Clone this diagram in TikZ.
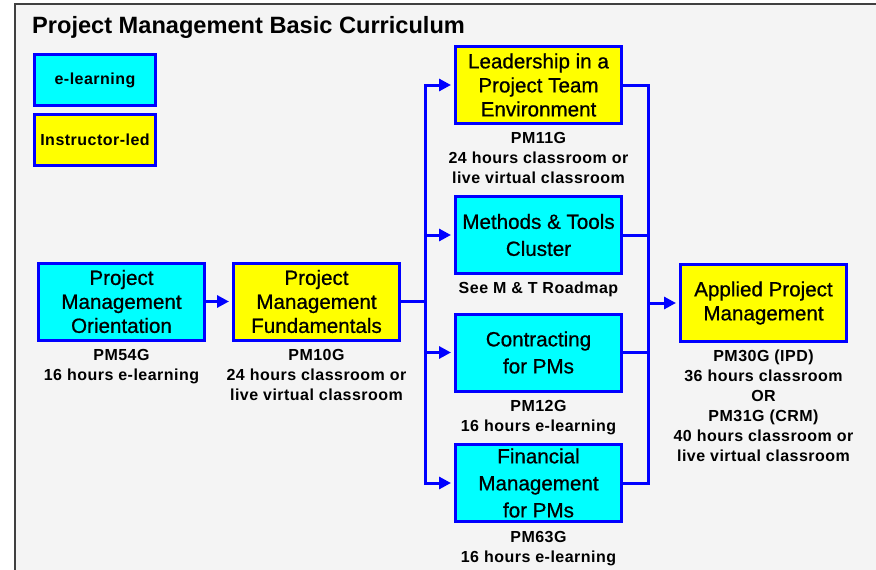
\documentclass[tikz,border=0pt]{standalone}
\usepackage{fontspec}
\setmainfont{Liberation Sans}
\newfontfamily\notefont[LetterSpace=3]{Liberation Sans}
\newfontfamily\boxfont[FakeBold=0.7]{Liberation Sans}
\usetikzlibrary{positioning,arrows.meta}
\definecolor{elearn}{RGB}{0,255,255}
\definecolor{classrm}{RGB}{255,255,0}
\definecolor{linkblue}{RGB}{0,0,255}
\definecolor{paper}{RGB}{244,244,244}

\begin{document}
\begin{tikzpicture}[x=1pt, y=-1pt,
    course/.style={draw=linkblue, line width=3pt, minimum width=166pt, minimum height=77pt, inner sep=0pt, align=center, font=\boxfont\fontsize{20.6}{24}\selectfont},
    ecourse/.style={course, fill=elearn},
    icourse/.style={course, fill=classrm},
    key/.style={draw=linkblue, line width=3pt, minimum width=121pt, minimum height=51pt, inner sep=0pt, font=\notefont\bfseries\fontsize{16}{20}\selectfont},
    note/.style={inner sep=0pt, align=center, font=\notefont\bfseries\fontsize{16}{20}\selectfont},
    link/.style={draw=linkblue, line width=3pt, -{Triangle[length=12pt,width=12pt]}, shorten >=3pt},
    wire/.style={draw=linkblue, line width=3pt}]
                \useasboundingbox (0,0) rectangle (876,570);
                \fill[paper] (15,4) rectangle (876,570);
                \draw[line width=1.5pt, black!75] (15,570) -- (15,4) -- (876,4);

                \node[anchor=base west, inner sep=0pt, font=\bfseries\fontsize{23.6}{28}\selectfont] (title) at (32,33) {Project Management Basic Curriculum};

                \node[key, fill=elearn] (keye) at (95,80) {e-learning};
                \node[key, fill=classrm] (keyi) at (95,140) {Instructor-led};

                \node[ecourse] (orient) at (121.5,301.5) {Project\\Management\\Orientation};
                \node[icourse] (fund) at (316.5,301.5) {Project\\Management\\Fundamentals};
                \node[icourse] (lead) at (538.5,85) {Leadership in a\\Project Team\\Environment};
                \node[ecourse] (meth) at (538.5,235) {Methods \& Tools\\[3pt]Cluster};
                \node[ecourse] (contr) at (538.5,352.5) {Contracting\\[3pt]for PMs};
                \node[ecourse] (fin) at (538.5,483) {Financial\\[3pt]Management\\[3pt]for PMs};
                \node[icourse] (appl) at (763.5,303) {Applied Project\\Management};

                \node[note, below=8pt of orient] (orientnote) {PM54G\\16 hours e-learning};
                \node[note, below=8pt of fund] (fundnote) {PM10G\\24 hours classroom or\\live virtual classroom};
                \node[note, below=7pt of lead] (leadnote) {PM11G\\24 hours classroom or\\live virtual classroom};
                \node[note, below=7pt of meth] (methnote) {See M \& T Roadmap};
                \node[note, below=8pt of contr] (contrnote) {PM12G\\16 hours e-learning};
                \node[note, below=8pt of fin] (finnote) {PM63G\\16 hours e-learning};
                \node[note, below=7pt of appl] (applnote) {PM30G (IPD)\\36 hours classroom\\OR\\PM31G (CRM)\\40 hours classroom or\\live virtual classroom};

                \coordinate (split) at (425,301.5);
                \coordinate (join) at (648,303);

                \draw[link] (orient) -- (fund);
                \draw[wire] (fund.east) -- (split);
                \draw[link] (split) |- (lead.west);
                \draw[link] (split) |- (meth.west);
                \draw[link] (split) |- (contr.west);
                \draw[link] (split) |- (fin.west);
                \draw[wire] (lead.east) -| (join);
                \draw[wire] (meth.east) -| (join);
                \draw[wire] (contr.east) -| (join);
                \draw[wire] (fin.east) -| (join);
                \draw[link] (join) -- (appl);
            \end{tikzpicture}
\end{document}
